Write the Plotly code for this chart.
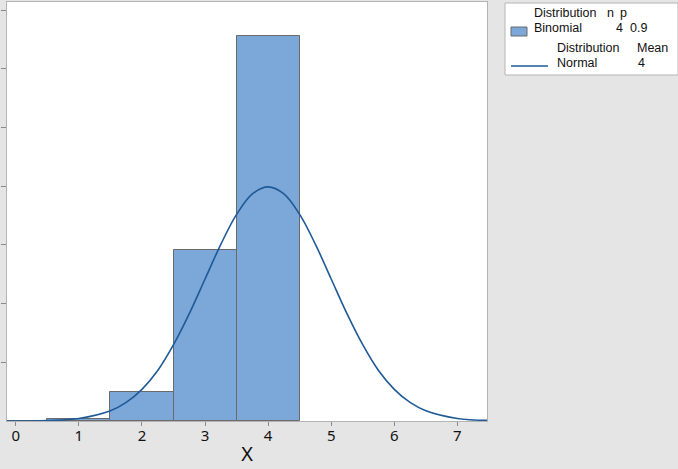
import plotly.graph_objects as go

# binomial n=4, p=0.9 probabilities
binom_x = [0, 1, 2, 3, 4]
binom_p = [0.0001, 0.0036, 0.0486, 0.2916, 0.6561]

# normal curve, mean 4
norm_x = [-0.14, 0.5, 1.0, 1.5, 1.75, 2.0, 2.25, 2.5, 2.75, 3.0, 3.25, 3.5, 3.75, 4.0,
          4.25, 4.5, 4.75, 5.0, 5.25, 5.5, 5.75, 6.0, 6.25, 6.5, 7.0, 7.47]
norm_y = [0.0000, 0.0009, 0.0044, 0.0175, 0.0317, 0.054, 0.086, 0.130, 0.183, 0.242, 0.301,
          0.352, 0.387, 0.399, 0.387, 0.352, 0.301, 0.242, 0.183, 0.130, 0.086, 0.054,
          0.0317, 0.0175, 0.0044, 0.0010]

x_ticks = [0, 1, 2, 3, 4, 5, 6, 7]
y_ticks = [0.1, 0.2, 0.3, 0.4, 0.5, 0.6, 0.7]

binom_n = "4"
binom_prob = "0.9"
norm_mean = "4"

W, H = 678, 469
ml, mr, mt, mb = 7, 191, 2, 48

fig = go.Figure()
fig.add_trace(go.Bar(x=binom_x, y=binom_p, width=1,
                     marker=dict(color="#7ba7d9", line=dict(color="#6a6a6a", width=1)),
                     showlegend=False))
fig.add_trace(go.Scatter(x=norm_x, y=norm_y, mode="lines", line=dict(color="#1f5a96", width=1.6, shape="spline"),
                         showlegend=False))

# pixel -> paper helpers for the hand-made legend box
def px(v):
    return (v - ml) / (W - ml - mr)

def py(v):
    return (H - mb - v) / (H - mt - mb)

font = dict(family="Liberation Sans", size=12.5, color="#111111")
fig.add_shape(type="rect", xref="paper", yref="paper", x0=px(505), x1=px(678), y0=py(75), y1=py(3),
              fillcolor="white", line=dict(color="#b4b4b4", width=1))
fig.add_shape(type="rect", xref="paper", yref="paper", x0=px(511), x1=px(527), y0=py(36), y1=py(27),
              fillcolor="#7ba7d9", line=dict(color="#6a6a6a", width=1))
fig.add_shape(type="line", xref="paper", yref="paper", x0=px(511), x1=px(548), y0=py(66), y1=py(66),
              line=dict(color="#1f5a96", width=1.6))

labels = [
    ("Distribution", 533, 13, "left"),
    ("n", 606, 13, "left"),
    ("p", 619, 13, "left"),
    ("Binomial", 533, 28, "left"),
    (binom_n, 624, 28, "right"),
    (binom_prob, 629, 28, "left"),
    ("Distribution", 556, 48, "left"),
    ("Mean", 636, 48, "left"),
    ("Normal", 556, 63, "left"),
    (norm_mean, 637, 63, "left"),
]
for txt, x, y, anc in labels:
    fig.add_annotation(text=txt, xref="paper", yref="paper", x=px(x), y=py(y), xanchor=anc,
                       yanchor="middle", showarrow=False, font=font, borderpad=0)

fig.update_layout(
    width=W, height=H,
    margin=dict(l=ml, r=mr, t=mt, b=mb),
    paper_bgcolor="#e5e5e5", plot_bgcolor="white",
    bargap=0,
    xaxis=dict(range=[-0.14, 7.47], tickvals=x_ticks, ticks="outside", ticklen=4, tickcolor="#8a8a8a",
               showline=True, mirror=True, linecolor="#b4b4b4", showgrid=False, zeroline=False,
               tickfont=dict(family="Noto Sans", size=15, color="#111111"), ticklabelstandoff=-3,
               title=dict(text="X", font=dict(family="Noto Sans", size=20, color="#111111"), standoff=2)),
    yaxis=dict(range=[0, 0.714], tickvals=y_ticks, ticks="outside", ticklen=5, tickcolor="#8a8a8a",
               showticklabels=False, showline=True, mirror=True, linecolor="#b4b4b4",
               showgrid=False, zeroline=False),
)

fig.write_html("out.html", config={"displayModeBar": False},
               post_script="document.body.style.margin='0px';")
